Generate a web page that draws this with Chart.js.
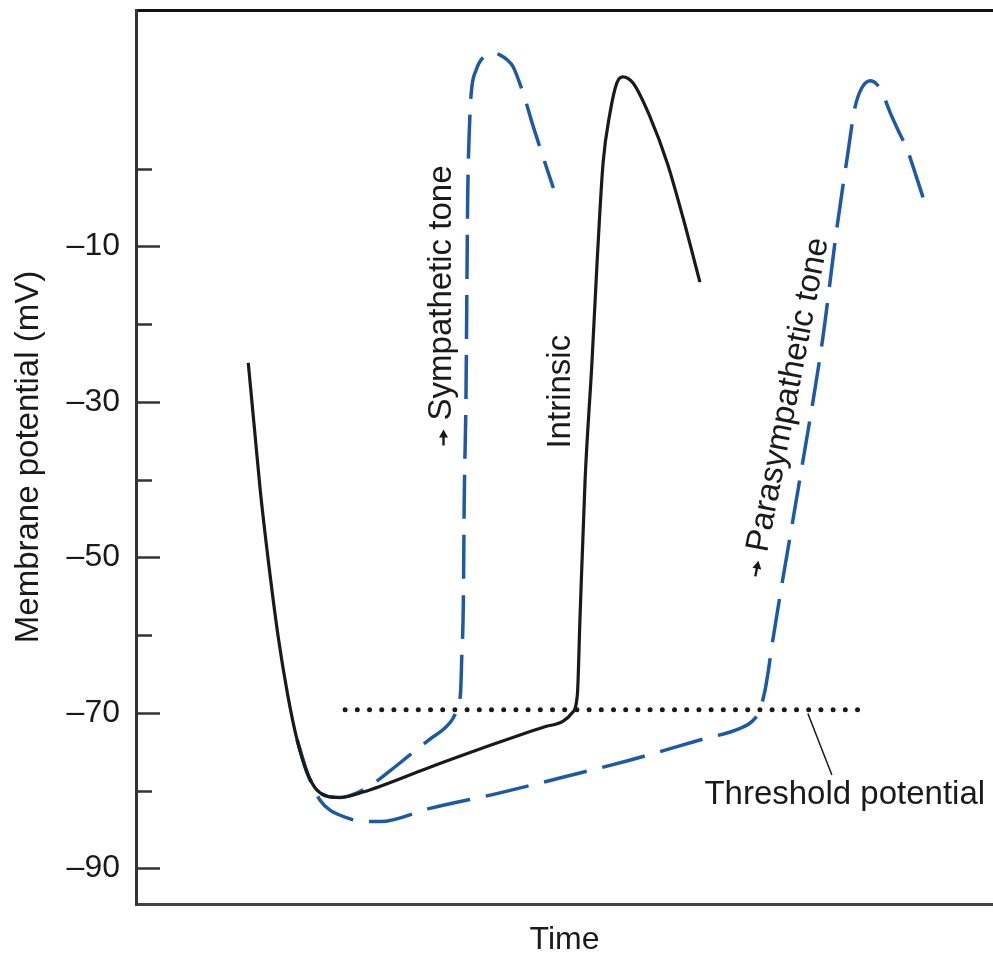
<!DOCTYPE html>
<html lang="en">
<head>
  <meta charset="UTF-8" />
  <title>Pacemaker potential – autonomic tone</title>
  <script src="https://cdn.jsdelivr.net/npm/chart.js"></script>
  <style>
    body {
      margin: 0;
      background: #fff;
    }
    .wrap {
      width: 993px;
      height: 956px;
      position: relative;
    }
  </style>
</head>
<body>
  <div class="wrap"><canvas id="apChart"></canvas></div>

  <script>
    // time is arbitrary (0 = left edge, 100 = right edge); potential in mV
    const intrinsicTime = [13.1, 13.8, 14.5, 15.5, 16.6, 17.7, 18.8, 20.0, 21.0, 22.2, 23.8, 26.5, 34.3, 42.1, 47.7, 49.8, 50.9, 51.5, 51.8, 52.4, 53.2, 53.8, 54.5, 55.3, 56.1, 56.8, 58.0, 60.0, 62.0, 63.8, 65.8];
    const intrinsicMv   = [-25.0, -33.2, -41.4, -51.0, -60.3, -67.7, -73.5, -77.8, -79.8, -80.7, -80.9, -80.2, -77.0, -73.9, -71.8, -71.1, -70.0, -67.7, -58.1, -40.1, -25.0, -12.1, 0.7, 7.1, 11.0, 11.8, 11.0, 6.6, 0.7, -6.2, -14.6];

    const sympTime = [18.8, 20.0, 21.0, 22.2, 23.8, 25.8, 27.3, 29.6, 32.0, 34.3, 36.1, 37.0, 37.6, 37.9, 38.0, 38.2, 38.3, 38.5, 38.6, 38.7, 38.9, 39.1, 39.7, 40.6, 41.7, 42.5, 43.3, 44.0, 44.8, 45.6, 46.3, 47.5, 48.7];
    const sympMv   = [-73.5, -77.8, -79.8, -80.7, -80.9, -80.3, -79.4, -77.5, -75.4, -73.4, -71.9, -70.7, -69.0, -66.8, -63.2, -55.5, -42.6, -29.8, -16.9, -4.0, 5.0, 9.5, 12.7, 14.4, 14.9, 14.6, 14.0, 13.1, 10.9, 8.2, 5.6, 1.5, -2.5];

    const paraTime = [18.8, 20.0, 20.7, 21.5, 22.6, 24.6, 26.5, 28.5, 34.3, 42.1, 49.8, 57.6, 65.8, 70.5, 71.9, 72.8, 73.4, 73.8, 74.3, 77.3, 80.1, 81.8, 83.0, 83.9, 84.7, 85.7, 86.4, 87.1, 88.0, 88.9, 90.0, 91.1, 92.3];
    const paraMv   = [-73.5, -77.8, -79.6, -81.3, -82.5, -83.5, -84.0, -84.0, -82.3, -80.4, -78.3, -76.1, -73.5, -72.0, -71.1, -69.6, -67.1, -64.5, -60.7, -41.0, -22.1, -7.5, 1.5, 7.9, 10.4, 11.3, 10.9, 9.7, 7.2, 5.0, 2.4, -1.2, -5.3];

    const thresholdTime = [24.4, 85.2];
    const thresholdMv   = [-69.6, -69.6];

    const yTickValues = [-90, -80, -70, -60, -50, -40, -30, -20, -10, 0];
    const yTickLabels = ['\u201390', '', '\u201370', '', '\u201350', '', '\u201330', '', '\u201310', ''];

    const FONT = "'Liberation Sans', Arial, Helvetica, sans-serif";
    const BLUE = '#1d5aa6';
    const INK = '#1a1a1a';

    function pts(xs, ys) {
      return xs.map((x, i) => ({ x: x, y: ys[i] }));
    }

    // labels drawn inside the plot, placed in data coordinates
    const notes = [
      { text: 'Sympathetic tone', t: 35.65, mv: -16.0, angle: -90, arrow: true },
      { text: 'Intrinsic', t: 49.6, mv: -28.7, angle: -90 },
      { text: 'Parasympathetic tone', t: 76.15, mv: -29.1, angle: -79, arrow: true },
      { text: 'Threshold potential', t: 82.7, mv: -80.6, angle: 0 }
    ];
    const leader = { t1: 78.4, mv1: -70.1, t2: 81.2, mv2: -78.0 };

    const decorations = {
      id: 'decorations',
      afterDraw(chart) {
        const { ctx, scales } = chart;
        const x = scales.x, y = scales.y;
        ctx.save();

        // y tick marks pointing into the plot
        ctx.strokeStyle = '#333';
        ctx.lineWidth = 2.5;
        yTickValues.forEach((v, i) => {
          const py = Math.round(y.getPixelForValue(v)) + 0.5;
          const len = yTickLabels[i] ? 24 : 16;
          ctx.beginPath();
          ctx.moveTo(x.left, py);
          ctx.lineTo(x.left + len, py);
          ctx.stroke();
        });

        // leader line for the threshold label
        ctx.strokeStyle = INK;
        ctx.lineWidth = 1.5;
        ctx.beginPath();
        ctx.moveTo(x.getPixelForValue(leader.t1), y.getPixelForValue(leader.mv1));
        ctx.lineTo(x.getPixelForValue(leader.t2), y.getPixelForValue(leader.mv2));
        ctx.stroke();

        ctx.font = '33px ' + FONT;
        ctx.fillStyle = INK;
        ctx.textAlign = 'center';
        ctx.textBaseline = 'middle';
        notes.forEach(n => {
          ctx.save();
          ctx.translate(x.getPixelForValue(n.t), y.getPixelForValue(n.mv));
          ctx.rotate(n.angle * Math.PI / 180);
          ctx.fillText(n.text, 0, 0);
          if (n.arrow) {
            // small arrow in front of the label, pointing along the text
            const w = ctx.measureText(n.text).width;
            const a0 = -w / 2 - 25, a1 = -w / 2 - 9;
            ctx.lineWidth = 2.4;
            ctx.beginPath();
            ctx.moveTo(a0, 2);
            ctx.lineTo(a1 - 5, 2);
            ctx.stroke();
            ctx.beginPath();
            ctx.moveTo(a1, 2);
            ctx.lineTo(a1 - 8, -2.5);
            ctx.lineTo(a1 - 8, 6.5);
            ctx.closePath();
            ctx.fill();
          }
          ctx.restore();
        });

        ctx.restore();
      }
    };

    const ctx = document.getElementById('apChart').getContext('2d');
    new Chart(ctx, {
      type: 'line',
      data: {
        datasets: [
          {
            label: 'Intrinsic',
            data: pts(intrinsicTime, intrinsicMv),
            borderColor: INK,
            borderWidth: 3.2,
            cubicInterpolationMode: 'monotone',
            pointRadius: 0,
            order: 1
          },
          {
            label: 'Threshold potential',
            data: pts(thresholdTime, thresholdMv),
            borderColor: INK,
            borderWidth: 5,
            borderDash: [0, 12.2],
            borderCapStyle: 'round',
            pointRadius: 0,
            order: 2
          },
          {
            label: 'Sympathetic tone',
            data: pts(sympTime, sympMv),
            borderColor: BLUE,
            borderWidth: 3.5,
            borderDash: [44, 16],
            cubicInterpolationMode: 'monotone',
            pointRadius: 0,
            order: 3
          },
          {
            label: 'Parasympathetic tone',
            data: pts(paraTime, paraMv),
            borderColor: BLUE,
            borderWidth: 3.5,
            borderDash: [44, 16],
            cubicInterpolationMode: 'monotone',
            pointRadius: 0,
            order: 4
          }
        ]
      },
      options: {
        responsive: true,
        maintainAspectRatio: false,
        animation: false,
        layout: { padding: 0 },
        plugins: {
          legend: { display: false },
          tooltip: { enabled: false }
        },
        scales: {
          x: {
            type: 'linear',
            position: 'bottom',
            min: 0,
            max: 100,
            ticks: { display: false },
            grid: { display: false, drawTicks: false },
            border: { display: true, color: '#444', width: 3 },
            title: {
              display: true,
              text: 'Time',
              color: INK,
              font: { family: FONT, size: 32, lineHeight: 1 },
              padding: 0
            },
            afterFit(scale) {
              scale.height = 52;
              scale.paddingLeft = 0;
              scale.paddingRight = 0;
            }
          },
          xTop: {
            type: 'linear',
            position: 'top',
            min: 0,
            max: 100,
            ticks: { display: false },
            grid: { display: false, drawTicks: false },
            border: { display: true, color: '#111', width: 3 },
            afterFit(scale) {
              scale.height = 10;
              scale.paddingLeft = 0;
              scale.paddingRight = 0;
            }
          },
          y: {
            type: 'linear',
            position: 'left',
            min: -94.6,
            max: 20.4,
            afterBuildTicks(scale) {
              scale.ticks = yTickValues.map(v => ({ value: v }));
            },
            ticks: {
              autoSkip: false,
              padding: 16,
              color: INK,
              font: { family: FONT, size: 32 },
              callback(value) {
                const i = yTickValues.indexOf(value);
                return i >= 0 ? yTickLabels[i] : '';
              }
            },
            grid: { display: false, drawTicks: false },
            border: { display: true, color: '#333', width: 3 },
            title: {
              display: true,
              text: 'Membrane potential (mV)',
              color: INK,
              font: { family: FONT, size: 33, lineHeight: 1 },
              padding: { top: 12, bottom: 0 }
            },
            afterFit(scale) {
              scale.width = 136;
              scale.paddingTop = 0;
              scale.paddingBottom = 0;
            }
          }
        }
      },
      plugins: [decorations]
    });
  </script>
</body>
</html>
